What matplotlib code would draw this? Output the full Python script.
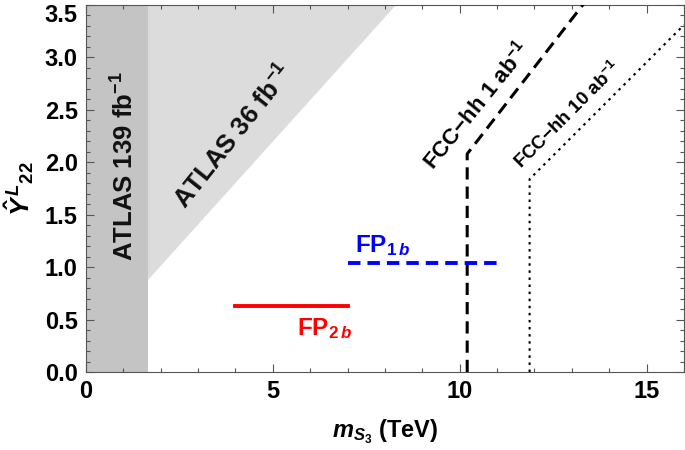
import matplotlib as mpl
import matplotlib.pyplot as plt
from matplotlib.ticker import MultipleLocator, FuncFormatter

mpl.rcParams.update({
    'font.family': ['Liberation Sans', 'DejaVu Sans'],
    'font.weight': 'bold',
    'mathtext.fontset': 'custom',
    'mathtext.rm': 'Liberation Sans:bold',
    'mathtext.it': 'Liberation Sans:bold:italic',
    'mathtext.bf': 'Liberation Sans:bold',
    'axes.unicode_minus': True,
})

# excluded regions
atlas139_x = [0.0, 1.66]
atlas36_x = [1.66, 1.66, 8.3]
atlas36_y = [0.88, 3.5, 3.5]

# FCC-hh reach curves
fcc1_x = [10.2, 10.2, 13.4]
fcc1_y = [0.0, 2.08, 3.55]
fcc10_x = [11.87, 11.87, 16.0]
fcc10_y = [0.0, 1.84, 3.31]

# benchmark lines
fp1b_x = [7.0, 11.0]
fp1b_y = [1.04, 1.04]
fp2b_x = [4.0, 7.0]
fp2b_y = [0.63, 0.63]

YMAX = 3.5

fig = plt.figure(figsize=(6.85, 4.5), dpi=100)
ax = fig.add_axes([0.1255, 0.1733, 0.873, 0.8156])
ax.set_xlim(0, 16)
ax.set_ylim(0, YMAX)

ax.axvspan(*atlas139_x, color='#c4c4c4', lw=0, zorder=1)
ax.fill(atlas36_x, atlas36_y, color='#dcdcdc', lw=0, zorder=0.9)

ax.plot(fcc1_x, fcc1_y, color='black', lw=2.2, ls=(0, (4, 2.3)), zorder=3)
ax.plot(fcc10_x, fcc10_y, color='black', lw=1.5, ls=(0, (1.2, 2.2)), zorder=3)
ax.plot(fp1b_x, fp1b_y, color='#0000ff', lw=2.8, ls=(0, (3.2, 1.8)), zorder=3)
ax.plot(fp2b_x, fp2b_y, color='#ff0000', lw=2.8, zorder=3)

ax.text(1.04, 1.96, r'ATLAS 139 fb$^{-1}$', rotation=90, ha='center', va='center',
        fontsize=18.5, fontweight='bold', color='#111111', zorder=4)
ax.text(3.95, 2.25, r'ATLAS 36 fb$^{-1}$', rotation=51.5, ha='center', va='center',
        fontsize=18.5, fontweight='bold', color='#111111', zorder=4)
ax.text(10.45, 2.55, r'FCC$-$hh 1 ab$^{-1}$', rotation=51, ha='center', va='center',
        fontsize=16, fontweight='bold', color='black', zorder=4)
ax.text(12.89, 2.45, r'FCC$-$hh 10 ab$^{-1}$', rotation=45, ha='center', va='center',
        fontsize=13.5, fontweight='bold', color='black', zorder=4)
ax.text(7.2, 1.21, r'FP$_{\mathit{1\,b}}$', ha='left', va='center',
        fontsize=17.5, fontweight='bold', color='#0000ff', zorder=4)
ax.text(5.65, 0.41, r'FP$_{\mathit{2\,b}}$', ha='left', va='center',
        fontsize=17.5, fontweight='bold', color='#ff0000', zorder=4)

ax.xaxis.set_major_locator(MultipleLocator(5))
ax.xaxis.set_minor_locator(MultipleLocator(1))
ax.yaxis.set_major_locator(MultipleLocator(0.5))
ax.yaxis.set_minor_locator(MultipleLocator(0.1))
# the top label is drawn separately so that it stays inside the figure
ax.yaxis.set_major_formatter(FuncFormatter(
    lambda v, _: '' if abs(v - YMAX) < 1e-9 else f'{v:.1f}'))
ax.tick_params(which='both', direction='in', top=True, right=True,
               color='#555555', labelsize=17, width=0.8)
ax.tick_params(which='major', length=6, pad=6)
ax.tick_params(which='minor', length=3)
for s in ax.spines.values():
    s.set_color('#555555')
    s.set_linewidth(0.8)

ax.annotate(f'{YMAX:.1f}', xy=(0, YMAX), xycoords=('axes fraction', 'data'),
            xytext=(-6, 1), textcoords='offset points', ha='right', va='top',
            fontsize=17, fontweight='bold')

ax.set_xlabel(r'$m_{S_3}$ (TeV)', fontsize=17, fontweight='bold', labelpad=10)
ax.set_ylabel(r'$\hat{Y}^{\,L}{}_{22}$', fontsize=19, fontweight='bold', labelpad=6)

fig.savefig('out.png', dpi=100)
